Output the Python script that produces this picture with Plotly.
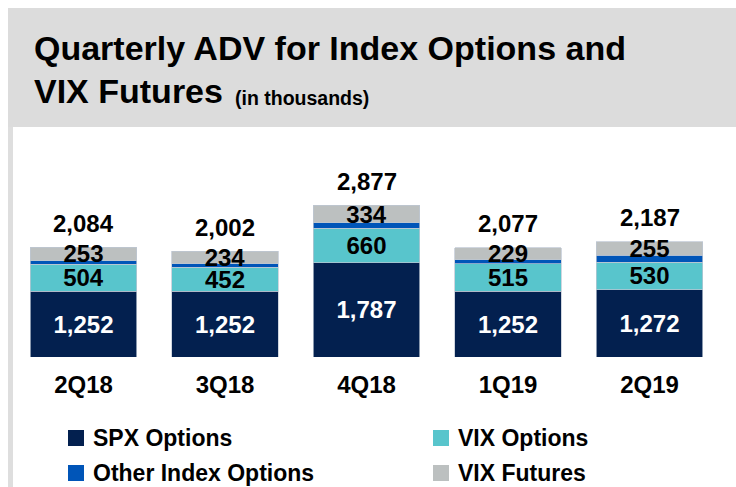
import plotly.graph_objects as go

# ---- data ----
quarters = ["2Q18", "3Q18", "4Q18", "1Q19", "2Q19"]
spx_options = [1252, 1252, 1787, 1252, 1272]
vix_options = [504, 452, 660, 515, 530]
other_index = [75, 64, 96, 81, 130]
vix_futures = [253, 234, 334, 229, 255]
totals = [2084, 2002, 2877, 2077, 2187]
series_names = ["SPX Options", "VIX Options", "Other Index Options", "VIX Futures"]

# ---- style ----
W, H = 736, 487
NAVY, TEAL, BLUE, GREY = "#03204f", "#58c5cc", "#0055b8", "#bcc0c0"
FONT = "Liberation Sans, Arial, sans-serif"


def px(x):
    return x / W


def py(y):
    return 1 - y / H


def fmt(v):
    return f"{v:,}"


fig = go.Figure()
series = [
    (series_names[0], spx_options, NAVY, "white", True),
    (series_names[1], vix_options, TEAL, "black", True),
    (series_names[2], other_index, BLUE, "black", False),
    (series_names[3], vix_futures, GREY, "black", True),
]
for name, vals, color, tcolor, labelled in series:
    fig.add_trace(go.Bar(
        x=quarters, y=vals, name=name,
        marker=dict(color=color, line=dict(color="rgba(190,198,210,0.9)", width=0.8)),
        text=[fmt(v) for v in vals] if labelled else None,
        textposition="inside" if labelled else "none",
        insidetextanchor="middle",
        constraintext="none",
        textangle=0,
        textfont=dict(color=tcolor, size=24, family=FONT, weight="bold"),
        hoverinfo="skip",
    ))

annotations = []
for q, t in zip(quarters, totals):
    annotations.append(dict(
        x=q, y=t, xref="x", yref="y", text=fmt(t), showarrow=False,
        yanchor="middle", yshift=24,
        font=dict(size=24, family=FONT, color="black", weight="bold"),
    ))

# title
annotations.append(dict(
    x=px(32), y=py(48), xref="paper", yref="paper", xanchor="left", yanchor="middle",
    text="Quarterly ADV for Index Options and", showarrow=False,
    font=dict(size=34, family=FONT, color="black", weight="bold"),
))
annotations.append(dict(
    x=px(32), y=py(91), xref="paper", yref="paper", xanchor="left", yanchor="middle",
    text="VIX Futures", showarrow=False,
    font=dict(size=34, family=FONT, color="black", weight="bold"),
))
annotations.append(dict(
    x=px(233), y=py(98), xref="paper", yref="paper", xanchor="left", yanchor="middle",
    text="(in thousands)", showarrow=False,
    font=dict(size=19.5, family=FONT, color="black", weight="bold"),
))

shapes = [
    dict(type="rect", xref="paper", yref="paper", x0=px(8), x1=px(736), y0=py(8), y1=py(127),
         fillcolor="#dcdcdc", line=dict(width=0), layer="below"),
    dict(type="rect", xref="paper", yref="paper", x0=px(8), x1=px(13), y0=py(127), y1=py(487),
         fillcolor="#dedede", line=dict(width=0), layer="below"),
]

# legend (manual, 2 x 2)
legend_pos = [(68, 438), (433, 438), (68, 473), (433, 473)]
legend_colors = [NAVY, TEAL, BLUE, GREY]
for name, color, (lx, ly) in zip(series_names, legend_colors, legend_pos):
    shapes.append(dict(type="rect", xref="paper", yref="paper",
                       x0=px(lx), x1=px(lx + 16), y0=py(ly - 8), y1=py(ly + 8),
                       fillcolor=color, line=dict(width=0)))
    annotations.append(dict(
        x=px(lx + 23), y=py(ly), xref="paper", yref="paper", xanchor="left", yanchor="middle",
        text=name, showarrow=False,
        font=dict(size=23, family=FONT, color="black", weight="bold"),
    ))

fig.update_layout(
    width=W, height=H,
    margin=dict(l=0, r=0, t=0, b=0, pad=0),
    paper_bgcolor="white", plot_bgcolor="white",
    barmode="stack", bargap=0.244,
    showlegend=False,
    xaxis=dict(domain=[px(12.75), px(720.25)], showline=False, showgrid=False, zeroline=False,
               ticks="", ticklabelstandoff=11,
               tickfont=dict(size=24, family=FONT, color="black", weight="bold")),
    yaxis=dict(domain=[py(357), py(130)], range=[0, 4307], visible=False),
    annotations=annotations,
    shapes=shapes,
)

fig.write_html(
    "out.html",
    config={"displayModeBar": False},
    post_script="document.body.style.margin='0';document.body.style.overflow='hidden';",
)
